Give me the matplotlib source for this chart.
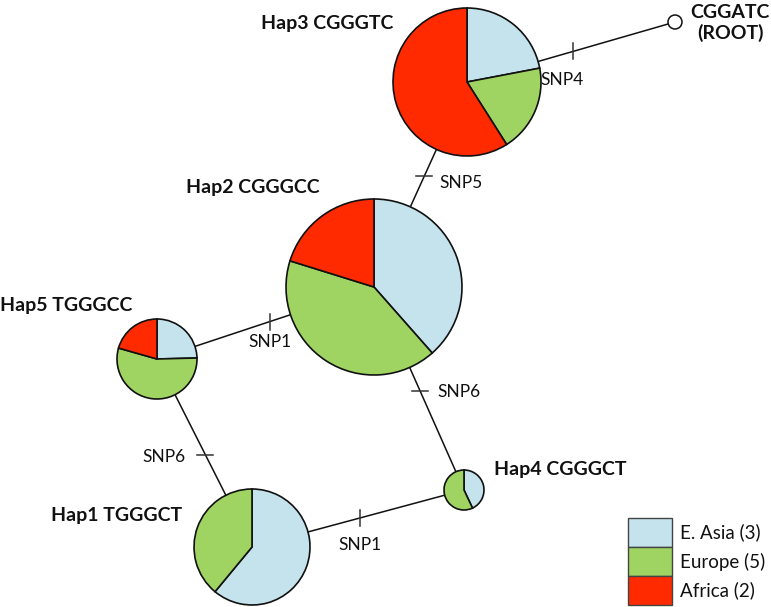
import matplotlib
matplotlib.use('Agg')
import matplotlib.pyplot as plt
from matplotlib.patches import Rectangle, Circle

plt.rcParams['font.family'] = ['Lato', 'DejaVu Sans']

W, H = 771, 607

# haplotype data (fractions of each region in every haplotype)
haps = ['Hap1', 'Hap2', 'Hap3', 'Hap4', 'Hap5']
seqs = ['TGGGCT', 'CGGGCC', 'CGGGTC', 'CGGGCT', 'TGGGCC']
east_asia = [0.61, 0.385, 0.22, 0.43, 0.246]
europe = [0.39, 0.413, 0.19, 0.57, 0.548]
africa = [0.0, 0.202, 0.59, 0.0, 0.206]

regions = ['E. Asia', 'Europe', 'Africa']
region_counts = [3, 5, 2]
colors = ['#c5e3ec', '#a0d462', '#ff2a00']

# edges of the network and the SNP on each
edges = [('Hap3', 'ROOT'), ('Hap3', 'Hap2'), ('Hap5', 'Hap2'),
         ('Hap2', 'Hap4'), ('Hap5', 'Hap1'), ('Hap1', 'Hap4')]
snps = ['SNP4', 'SNP5', 'SNP1', 'SNP6', 'SNP6', 'SNP1']

# layout (pixel positions, y measured from top)
pos = {'Hap1': (252, 547), 'Hap2': (374, 287), 'Hap3': (467, 82),
       'Hap4': (464, 490), 'Hap5': (157, 359), 'ROOT': (675, 22)}
radius = {'Hap1': 58, 'Hap2': 88, 'Hap3': 74, 'Hap4': 20, 'Hap5': 40}
tick_t = [0.51, 0.46, 0.52, 0.51, 0.51, 0.51]
snp_label_pos = [(562, 80), (461, 183), (270, 342), (459, 392), (164, 457), (360, 545)]
hap_label_pos = {'Hap1': (117, 515), 'Hap2': (253, 188), 'Hap3': (327, 23),
                 'Hap4': (560, 470), 'Hap5': (66, 306)}

fig = plt.figure(figsize=(W / 100, H / 100), dpi=100)
ax = fig.add_axes([0, 0, 1, 1])


def Y(y):
    return H - y


# connecting lines + SNP ticks
for (a, b), snp, t, lp in zip(edges, snps, tick_t, snp_label_pos):
    x0, y0 = pos[a]
    x1, y1 = pos[b]
    ax.plot([x0, x1], [Y(y0), Y(y1)], color='#111111', lw=1.1, zorder=1)
    tx, ty = x0 + t * (x1 - x0), y0 + t * (y1 - y0)
    if abs(y1 - y0) > abs(x1 - x0):
        ax.plot([tx - 8, tx + 8], [Y(ty), Y(ty)], color='#333333', lw=1.1, zorder=1)
    else:
        ax.plot([tx, tx], [Y(ty) - 8, Y(ty) + 8], color='#333333', lw=1.1, zorder=1)
    ax.text(lp[0], Y(lp[1]), snp, ha='center', va='center', fontsize=12.5, color='#111111')

# pies
for i, h in enumerate(haps):
    vals = [east_asia[i], europe[i], africa[i]]
    keep = [(v, c) for v, c in zip(vals, colors) if v > 0]
    x, y = pos[h]
    ax.pie([v for v, c in keep], colors=[c for v, c in keep], center=(x, Y(y)),
           radius=radius[h], startangle=90, counterclock=False,
           wedgeprops={'edgecolor': '#111111', 'linewidth': 1.2, 'zorder': 2})
    lx, ly = hap_label_pos[h]
    ax.text(lx, Y(ly), f'{h} {seqs[i]}', ha='center', va='center',
            fontsize=14, fontweight='bold', color='#111111')

# root node
rx, ry = pos['ROOT']
ax.add_patch(Circle((rx, Y(ry)), 7, facecolor='white', edgecolor='#111111', lw=1.1, zorder=3))
ax.text(730, Y(12), 'CGGATC', ha='center', va='center', fontsize=14, fontweight='bold', color='#111111')
ax.text(730, Y(33), '(ROOT)', ha='center', va='center', fontsize=14, fontweight='bold', color='#111111')

# legend
for k, (r, n, c) in enumerate(zip(regions, region_counts, colors)):
    top = 518 + k * 29
    ax.add_patch(Rectangle((628, Y(top + 29)), 44, 29, facecolor=c,
                           edgecolor='#444444', lw=1.0, zorder=3))
    ax.text(680, Y(top + 14.5), f'{r} ({n})', ha='left', va='center',
            fontsize=13.5, color='#111111')

ax.set_xlim(0, W)
ax.set_ylim(0, H)
ax.set_aspect('equal')
ax.axis('off')

fig.savefig('out.png', dpi=100, facecolor='white')
